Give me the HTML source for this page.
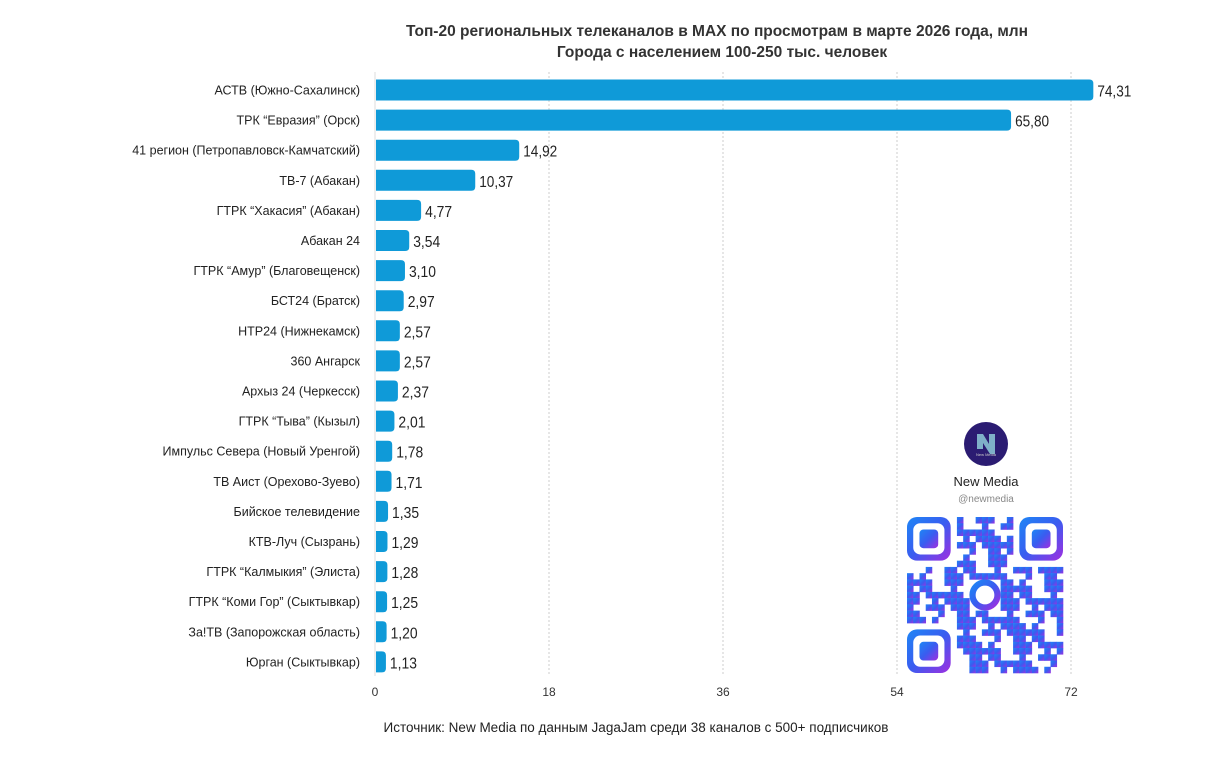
<!DOCTYPE html>
<html><head><meta charset="utf-8"><style>
body{margin:0;background:#fff;font-family:"Liberation Sans",sans-serif}
svg text{font-family:"Liberation Sans",sans-serif}
</style></head><body>
<svg id="c" width="1224" height="756" xmlns="http://www.w3.org/2000/svg">
<defs><linearGradient id="qg" x1="0" y1="0" x2="1" y2="1"><stop offset="0" stop-color="#1e86f5"/><stop offset="0.5" stop-color="#3a5cf0"/><stop offset="1" stop-color="#a02ee0"/></linearGradient></defs>
<text x="717" y="36" text-anchor="middle" font-size="15.5" font-weight="bold" fill="#333">Топ-20 региональных телеканалов в MAX по просмотрам в марте 2026 года, млн</text>
<text x="722" y="57" text-anchor="middle" font-size="15.5" font-weight="bold" fill="#333">Города с населением 100-250 тыс. человек</text>
<g id="grid"></g><g id="bars"></g>
<text x="636" y="732" text-anchor="middle" font-size="13.5" fill="#222">Источник: New Media по данным JagaJam среди 38 каналов с 500+ подписчиков</text>
<g>
<circle cx="986" cy="444" r="22" fill="#2b1c72"/>
<path d="M977 434h6l6 10v-10h6v20h-5l-7-11v6h-6z" fill="#7fb0c8"/>
<text x="986" y="456" text-anchor="middle" font-size="4" fill="#ccc">New Media</text>
<text x="986" y="486" text-anchor="middle" font-size="13" fill="#222">New Media</text>
<text x="986" y="502" text-anchor="middle" font-size="10" fill="#888">@newmedia</text>
</g>
<g id="qr"></g>
</svg>
<script>
const categories=["АСТВ (Южно-Сахалинск)","ТРК “Евразия” (Орск)","41 регион (Петропавловск-Камчатский)","ТВ-7 (Абакан)","ГТРК “Хакасия” (Абакан)","Абакан 24","ГТРК “Амур” (Благовещенск)","БСТ24 (Братск)","НТР24 (Нижнекамск)","360 Ангарск","Архыз 24 (Черкесск)","ГТРК “Тыва” (Кызыл)","Импульс Севера (Новый Уренгой)","ТВ Аист (Орехово-Зуево)","Бийское телевидение","КТВ-Луч (Сызрань)","ГТРК “Калмыкия” (Элиста)","ГТРК “Коми Гор” (Сыктывкар)","За!ТВ (Запорожская область)","Юрган (Сыктывкар)"];
const values=[74.31,65.80,14.92,10.37,4.77,3.54,3.10,2.97,2.57,2.57,2.37,2.01,1.78,1.71,1.35,1.29,1.28,1.25,1.20,1.13];
const ticks=[0,18,36,54,72];
const NS="http://www.w3.org/2000/svg";
const x=v=>375+v*(696/72);
const y=i=>79.5+i*30.1;
function mk(t,a,p){const e=document.createElementNS(NS,t);for(const k in a)e.setAttribute(k,a[k]);p.appendChild(e);return e;}
const g=document.getElementById('grid'),b=document.getElementById('bars');
ticks.forEach(t=>{
 const l=mk('line',{x1:x(t),x2:x(t),y1:72,y2:676,stroke:t?'#ccc':'#ddd','stroke-dasharray':t?'2,2':''},g);
 
 
 const tx=mk('text',{x:x(t),y:696,'text-anchor':'middle','font-size':12,fill:'#333'},g);tx.textContent=t;
 
 
});
categories.forEach((c,i)=>{
 const lb=mk('text',{x:360,y:y(i)+15,'text-anchor':'end','font-size':12.5,fill:'#222'},b);lb.textContent=c;
 
 
 const w=x(values[i])-376;
 const r=mk('path',{d:`M376 ${y(i)}h${w-4}q4 0 4 4v13q0 4 -4 4h${-(w-4)}z`,fill:'#0f9ad8'},b);
 
 
 const v=mk('text',{x:x(values[i])+4,y:y(i)+17,'font-size':15.5,fill:'#222',textLength:34,lengthAdjust:'spacingAndGlyphs'},b);v.textContent=values[i].toFixed(2).replace('.',',');
 if(values[i]<10)v.setAttribute('textLength',27);
 
 
});
// decorative QR
const q=document.getElementById('qr');const ox=907,oy=517,m=156/25;
const fp=(cx,cy)=>{mk('rect',{x:ox+cx*m,y:oy+cy*m,width:7*m,height:7*m,rx:10,fill:'url(#qg)'},q);mk('rect',{x:ox+cx*m+m,y:oy+cy*m+m,width:5*m,height:5*m,rx:7,fill:'#fff'},q);mk('rect',{x:ox+cx*m+2*m,y:oy+cy*m+2*m,width:3*m,height:3*m,rx:4,fill:'url(#qg)'},q);};
fp(0,0);fp(18,0);fp(0,18);
const pat="1011010011101011001101101010110111001011010110011010111";
for(let r=0;r<25;r++)for(let c=0;c<25;c++){
 if((r<8&&c<8)||(r<8&&c>16)||(r>16&&c<8))continue;
 if(r>9&&r<15&&c>9&&c<15)continue;
 if(pat[(r*7+c*3)%pat.length]==='1')mk('rect',{x:ox+c*m,y:oy+r*m,width:m+0.3,height:m+0.3,fill:'url(#qg)'},q);
}
mk('circle',{cx:ox+12.5*m,cy:oy+12.5*m,r:2*m,fill:'none',stroke:'url(#qg)','stroke-width':m},q);
</script>
</body></html>
